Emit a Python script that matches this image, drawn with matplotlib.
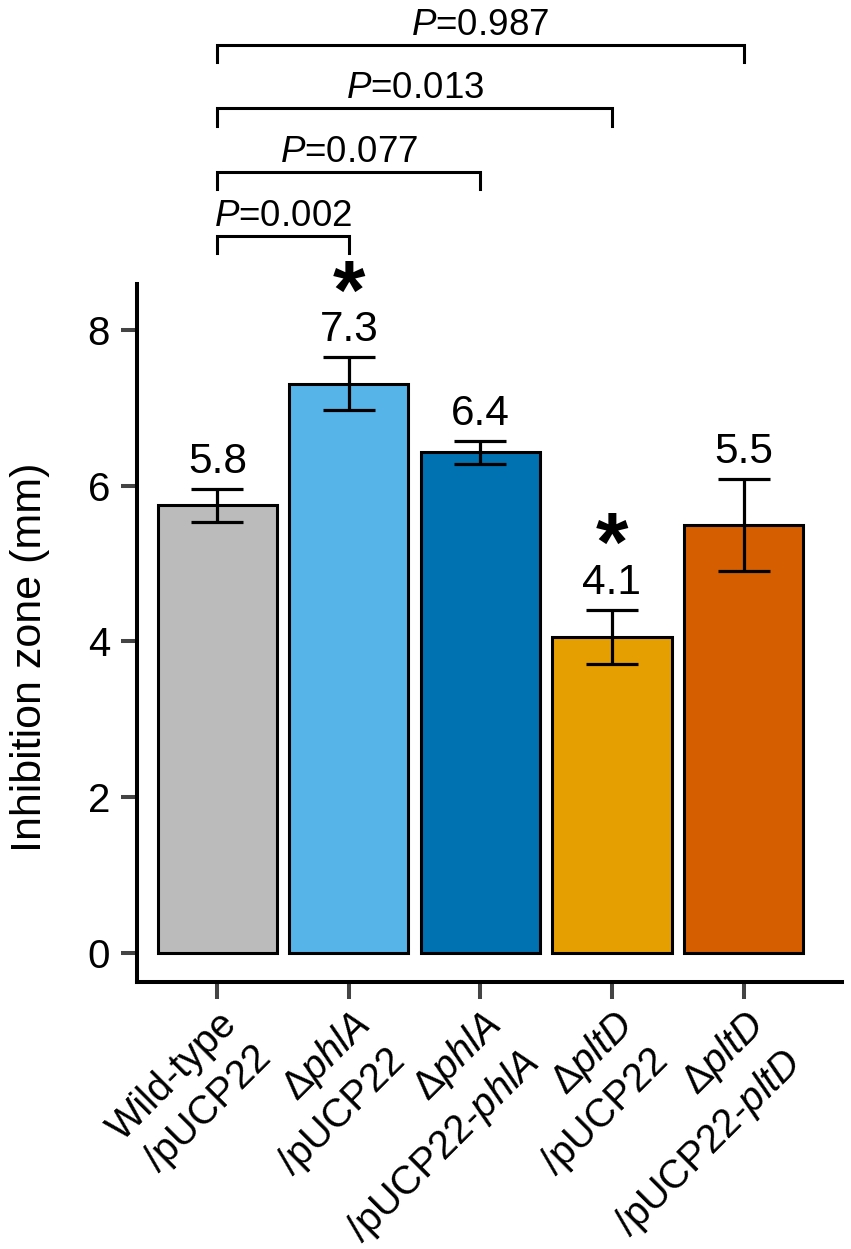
import matplotlib
matplotlib.use("Agg")
import matplotlib.pyplot as plt

plt.rcParams['font.family'] = ['Liberation Sans', 'DejaVu Sans']
plt.rcParams['mathtext.fontset'] = 'custom'
plt.rcParams['mathtext.rm'] = 'Liberation Sans'
plt.rcParams['mathtext.it'] = 'Liberation Sans:italic'
plt.rcParams['mathtext.bf'] = 'Liberation Sans:bold'

# ---- data ----
categories = ['Wild-type\n/pUCP22',
              'Δ$\\it{phlA}$\n/pUCP22',
              'Δ$\\it{phlA}$\n/pUCP22-$\\it{phlA}$',
              'Δ$\\it{pltD}$\n/pUCP22',
              'Δ$\\it{pltD}$\n/pUCP22-$\\it{pltD}$']
means = [5.75, 7.31, 6.43, 4.06, 5.50]
errors = [0.21, 0.34, 0.15, 0.345, 0.59]
value_labels = ['5.8', '7.3', '6.4', '4.1', '5.5']
significant = [False, True, False, True, False]
colors = ['#BBBBBB', '#56B4E9', '#0072B2', '#E69F00', '#D55E00']
comparisons = [(0, 1), (0, 2), (0, 3), (0, 4)]
p_values = ['0.002', '0.077', '0.013', '0.987']
yticks = [0, 2, 4, 6, 8]

fig = plt.figure(figsize=(8.51, 12.49), dpi=100)
ax = fig.add_axes([137/851, (1249-982)/1249, (842-137)/851, (982-284)/1249])

x = list(range(len(categories)))
ax.bar(x, means, width=0.905, color=colors, edgecolor='black', linewidth=2.2, zorder=2)
ax.errorbar(x, means, yerr=errors, fmt='none', ecolor='black', elinewidth=2.3,
            capsize=18.5, capthick=2.3, zorder=3)

for xi, m, e, lab, sig in zip(x, means, errors, value_labels, significant):
    ax.annotate(lab, xy=(xi, m + e), xytext=(0, 11.5), textcoords='offset points',
                ha='center', va='baseline', fontsize=30.5, annotation_clip=False)
    if sig:
        ax.annotate('*', xy=(xi, m + e), xytext=(0, 28), textcoords='offset points',
                    ha='center', va='baseline', fontsize=60, fontweight='bold',
                    annotation_clip=False)

ax.set_xlim(-0.612, 4.749)
ax.set_ylim(-0.378, 8.594)
ax.set_yticks(yticks)
ax.set_yticklabels([str(t) for t in yticks])
ax.set_xticks(x)
ax.set_xticklabels(categories, rotation=45, ha='right', va='top',
                   rotation_mode='anchor', fontsize=28.5, multialignment='right',
                   linespacing=1.35)

ax.tick_params(axis='y', length=11.5, width=2.9, color='#444444', labelsize=29, pad=8)
ax.tick_params(axis='x', length=12, width=2.9, color='#444444', pad=4)

for s in ['top', 'right']:
    ax.spines[s].set_visible(False)
for s in ['left', 'bottom']:
    ax.spines[s].set_linewidth(2.9)
    ax.spines[s].set_color('black')
    ax.spines[s].set_capstyle('projecting')

ax.set_ylabel('Inhibition zone (mm)', fontsize=31, va='baseline')
ax.yaxis.set_label_coords(-0.136, 0.465)

# significance brackets
base = 9.21
step = 0.82
drop = 0.22
for i, ((a, b), p) in enumerate(zip(comparisons, p_values)):
    h = base + i * step
    ax.plot([a, a, b, b], [h - drop, h, h, h - drop], color='black', lw=2.2,
            clip_on=False, solid_joinstyle='miter')
    ax.text((a + b) / 2, h + 0.13, '$\\it{P}$=' + p, ha='center', va='baseline',
            fontsize=26.5, clip_on=False)

fig.savefig('out.png', dpi=100)
